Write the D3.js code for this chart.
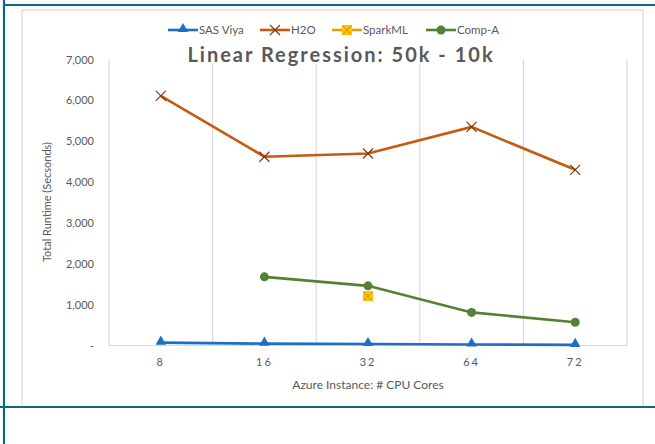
<!DOCTYPE html>
<html>
<head>
<meta charset="utf-8">
<script src="https://cdn.jsdelivr.net/npm/d3@7"></script>
<style>
  body { margin: 0; background: #fff; }
  text { font-family: Lato, "Open Sans", sans-serif; fill: #595959; }
</style>
</head>
<body>
<svg id="chart" width="655" height="444"></svg>
<script>
// chart data
const cores = ["8", "16", "32", "64", "72"];
const sasViya = [70, 45, 35, 25, 15];
const h2o = [6110, 4620, 4700, 5350, 4300];
const sparkML = [null, null, 1210, null, null];
const compA = [null, 1680, 1460, 810, 570];
const yTicks = [0, 1000, 2000, 3000, 4000, 5000, 6000, 7000];

const series = [
  { name: "SAS Viya", values: sasViya, color: "#1c6fc4", marker: "triangle" },
  { name: "H2O", values: h2o, color: "#c55a11", marker: "x" },
  { name: "SparkML", values: sparkML, color: "#d9a400", marker: "square" },
  { name: "Comp-A", values: compA, color: "#548235", marker: "circle" }
];

const svg = d3.select("#chart");
const teal = "#0b6a80";

svg.append("rect").attr("width", 655).attr("height", 444).attr("fill", "#fff");

// chart frame (bottom edge sits under the teal rule)
svg.append("rect")
  .attr("x", 22).attr("y", 10)
  .attr("width", 621).attr("height", 397)
  .attr("fill", "none")
  .attr("stroke", "#d9d9d9")
  .attr("stroke-width", 1.2);

const x = d3.scaleBand().domain(cores).range([109, 627]);
const y = d3.scaleLinear().domain([0, 7000]).range([345.5, 59.5]);

// vertical gridlines at category boundaries
const bounds = cores.map(c => x(c)).concat([x.range()[1]]);
svg.append("g").selectAll("line")
  .data(bounds)
  .join("line")
  .attr("x1", d => d).attr("x2", d => d)
  .attr("y1", y(7000)).attr("y2", y(0))
  .attr("stroke", "#d9d9d9")
  .attr("stroke-width", 1.2);

svg.append("line")
  .attr("x1", x.range()[0]).attr("x2", x.range()[1])
  .attr("y1", y(0)).attr("y2", y(0))
  .attr("stroke", "#d9d9d9")
  .attr("stroke-width", 1.2);

// y axis labels
const yAxis = d3.axisLeft(y)
  .tickValues(yTicks)
  .tickSize(0)
  .tickPadding(15)
  .tickFormat(d => d === 0 ? "-" : d3.format(",")(d));
svg.append("g")
  .attr("transform", `translate(${x.range()[0]},0)`)
  .call(yAxis)
  .call(g => g.select(".domain").remove())
  .call(g => g.selectAll("text")
    .attr("font-family", "Lato, sans-serif")
    .attr("font-size", 11)
    .attr("fill", "#595959"));

// x axis labels
const xAxis = d3.axisBottom(x).tickSize(0).tickPadding(13);
svg.append("g")
  .attr("transform", `translate(0,${y(0)})`)
  .call(xAxis)
  .call(g => g.select(".domain").remove())
  .call(g => g.selectAll("text")
    .attr("font-family", "Lato, sans-serif")
    .attr("font-size", 11)
    .attr("letter-spacing", "2px")
    .attr("fill", "#595959"));

svg.append("text")
  .attr("x", 368).attr("y", 389)
  .attr("text-anchor", "middle")
  .attr("font-size", 12)
  .text("Azure Instance: # CPU Cores");

svg.append("text")
  .attr("transform", "translate(51,202) rotate(-90)")
  .attr("text-anchor", "middle")
  .attr("font-size", 11)
  .text("Total Runtime (Secsonds)");

// title with white backing over the gridlines
svg.append("rect")
  .attr("x", 176).attr("y", 42).attr("width", 332).attr("height", 22)
  .attr("fill", "#fff");
svg.append("text")
  .attr("x", 341).attr("y", 62)
  .attr("text-anchor", "middle")
  .attr("font-size", 20)
  .attr("font-weight", "bold")
  .attr("letter-spacing", "2px")
  .text("Linear Regression: 50k - 10k");

function drawMarker(g, type, color, cx, cy) {
  if (type === "triangle") {
    g.append("path")
      .attr("d", d3.symbol(d3.symbolTriangle, 48)())
      .attr("transform", `translate(${cx},${cy - 1})`)
      .attr("fill", color);
  } else if (type === "x") {
    g.append("path")
      .attr("d", `M${cx - 5},${cy - 5}L${cx + 5},${cy + 5}M${cx - 5},${cy + 5}L${cx + 5},${cy - 5}`)
      .attr("stroke", "#7f3a0e")
      .attr("stroke-width", 1.2)
      .attr("fill", "none");
  } else if (type === "square") {
    g.append("rect")
      .attr("x", cx - 5).attr("y", cy - 5).attr("width", 10).attr("height", 10)
      .attr("fill", "#ffc000");
    g.append("path")
      .attr("d", `M${cx - 4},${cy - 4}L${cx + 4},${cy + 4}M${cx - 4},${cy + 4}L${cx + 4},${cy - 4}`)
      .attr("stroke", "#c99400")
      .attr("stroke-width", 1);
  } else {
    g.append("circle")
      .attr("cx", cx).attr("cy", cy).attr("r", 4.5)
      .attr("fill", color);
  }
}

const line = d3.line()
  .defined(d => d.v != null)
  .x(d => x(d.c) + x.bandwidth() / 2)
  .y(d => y(d.v));

series.forEach(s => {
  const pts = cores.map((c, i) => ({ c: c, v: s.values[i] }));
  const g = svg.append("g");
  g.append("path")
    .datum(pts)
    .attr("d", line)
    .attr("fill", "none")
    .attr("stroke", s.color)
    .attr("stroke-width", 2.6);
  pts.filter(d => d.v != null).forEach(d => {
    drawMarker(g, s.marker, s.color, x(d.c) + x.bandwidth() / 2, y(d.v));
  });
});

// legend
const legendX = [168, 260, 332, 426];
series.forEach((s, i) => {
  const g = svg.append("g").attr("transform", `translate(${legendX[i]},30)`);
  g.append("line")
    .attr("x1", 0).attr("x2", 30)
    .attr("stroke", s.color).attr("stroke-width", 2.6);
  drawMarker(g, s.marker, s.color, 15, 0);
  g.append("text")
    .attr("x", 31).attr("y", 4)
    .attr("font-size", 11.5)
    .text(s.name);
});

// teal page rules
svg.append("line").attr("x1", 3).attr("x2", 655).attr("y1", 5).attr("y2", 5)
  .attr("stroke", teal).attr("stroke-width", 2.2);
svg.append("line").attr("x1", 4).attr("x2", 4).attr("y1", 0).attr("y2", 444)
  .attr("stroke", teal).attr("stroke-width", 2.2);
svg.append("line").attr("x1", 0).attr("x2", 655).attr("y1", 407).attr("y2", 407)
  .attr("stroke", teal).attr("stroke-width", 2.2);
</script>
</body>
</html>
